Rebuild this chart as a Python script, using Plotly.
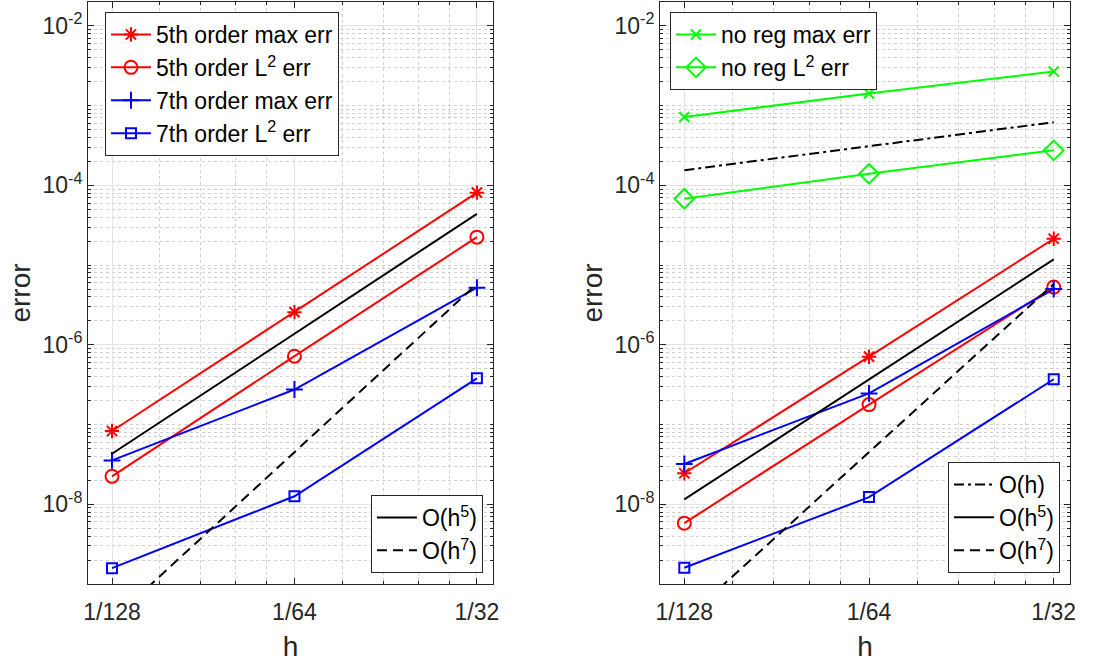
import plotly.graph_objects as go
from plotly.subplots import make_subplots
import math

# ---- data ----
h = [1/128, 1/64, 1/32]
h_labels = ["1/128", "1/64", "1/32"]

# left panel
max5_L = [8.3e-8, 2.57e-6, 8.1e-5]
l2_5_L = [2.24e-8, 7.2e-7, 2.24e-5]
max7_L = [3.55e-8, 2.75e-7, 5.2e-6]
l2_7_L = [1.58e-9, 1.26e-8, 3.8e-7]
O5_L = [4.3e-8, 1.37e-6, 4.4e-5]
O7_L = [3.5e-10, 4.5e-8, 5.8e-6]

# right panel
noreg_max = [7.2e-4, 1.42e-3, 2.68e-3]
noreg_l2 = [6.8e-5, 1.4e-4, 2.75e-4]
Oh_R = [1.55e-4, 3.1e-4, 6.2e-4]
max5_R = [2.45e-8, 7.1e-7, 2.14e-5]
l2_5_R = [5.8e-9, 1.78e-7, 5.3e-6]
max7_R = [3.2e-8, 2.46e-7, 5.0e-6]
l2_7_R = [1.6e-9, 1.23e-8, 3.7e-7]
O5_R = [1.15e-8, 3.7e-7, 1.18e-5]
O7_R = [3.5e-10, 4.5e-8, 5.8e-6]

y_tickvals = [1e-8, 1e-6, 1e-4, 1e-2]
y_ticktext = ["10<sup>-8</sup>", "10<sup>-6</sup>", "10<sup>-4</sup>", "10<sup>-2</sup>"]

FONT = "Liberation Sans, Arial, sans-serif"
AX = "#262626"
RED, BLUE, GREEN = "#ff0000", "#0000ff", "#00ff00"

fig = make_subplots(rows=1, cols=2, horizontal_spacing=0.17)


def add(col, y, name, color, symbol, legend, show=True, dash="solid", marker=True, msize=12):
    fig.add_trace(go.Scatter(
        x=h, y=y, name=name,
        mode="lines+markers" if marker else "lines",
        line=dict(color=color, width=2, dash=dash),
        marker=dict(symbol=symbol, size=msize, color=color,
                    line=dict(color=color, width=2)) if marker else None,
        legend=legend, legendgroup=name + legend, showlegend=show,
    ), row=1, col=col)


# left
add(1, max5_L, "5th order max err", RED, "asterisk-open", "legend")
add(1, l2_5_L, "5th order L<sup>2</sup> err", RED, "circle-open", "legend", msize=13)
add(1, max7_L, "7th order max err", BLUE, "cross-thin-open", "legend", msize=12)
add(1, l2_7_L, "7th order L<sup>2</sup> err", BLUE, "square-open", "legend", msize=10)
add(1, O5_L, "O(h<sup>5</sup>)", "black", None, "legend2", marker=False)
add(1, O7_L, "O(h<sup>7</sup>)", "black", None, "legend2", marker=False, dash="10px,6px")

# right
add(2, noreg_max, "no reg max err", GREEN, "x-thin-open", "legend3", msize=10)
add(2, noreg_l2, "no reg L<sup>2</sup> err", GREEN, "diamond-open", "legend3", msize=15)
add(2, Oh_R, "O(h)", "black", None, "legend4", marker=False, dash="10px,4px,3px,4px")
add(2, max5_R, "5th order max err", RED, "asterisk-open", "legend", show=False)
add(2, l2_5_R, "5th order L<sup>2</sup> err", RED, "circle-open", "legend", show=False, msize=13)
add(2, max7_R, "7th order max err", BLUE, "cross-thin-open", "legend", show=False, msize=12)
add(2, l2_7_R, "7th order L<sup>2</sup> err", BLUE, "square-open", "legend", show=False, msize=10)
add(2, O5_R, "O(h<sup>5</sup>)", "black", None, "legend4", marker=False)
add(2, O7_R, "O(h<sup>7</sup>)", "black", None, "legend4", marker=False, dash="10px,6px")

# axes
xminor = [b * f for b in (1/128, 1/64) for f in (1.2, 1.4, 1.6, 1.8)]
yminor = [m * 10.0 ** e for e in range(-10, 0) for m in range(1, 10)
          if not (m == 1 and e % 2 == 0)]
xr = [math.log10(1/128) - 0.0396, math.log10(1/32) + 0.0265]
yr = [-9, -1.7]

common = dict(showline=True, linecolor=AX, linewidth=1, mirror="ticks",
              ticks="inside", ticklen=6, tickcolor=AX,
              showgrid=True, gridcolor="#e3e3e3", gridwidth=1,
              zeroline=False, automargin=False,
              tickfont=dict(family=FONT, size=23, color=AX))

for c, dom in ((1, [0.0, 0.4124]), (2, [0.5825, 1.0])):
    fig.update_xaxes(type="log", range=xr, tickmode="array", tickvals=h,
                     ticktext=h_labels, domain=dom, ticklabelstandoff=7,
                     title=dict(text="h", font=dict(family=FONT, size=28, color=AX), standoff=12),
                     minor=dict(tickmode="array", tickvals=xminor, ticks="inside",
                                ticklen=3, tickcolor=AX, showgrid=True,
                                gridcolor="#d0d0d0", griddash="dot", gridwidth=1),
                     row=1, col=c, **common)
    fig.update_yaxes(type="log", range=yr, tickmode="array", tickvals=y_tickvals,
                     ticktext=y_ticktext,
                     title=dict(text="error", font=dict(family=FONT, size=28, color=AX), standoff=3),
                     minor=dict(tickmode="array", tickvals=yminor, ticks="inside",
                                ticklen=3, tickcolor=AX, showgrid=True,
                                gridcolor="#d0d0d0", griddash="dot", gridwidth=1),
                     row=1, col=c, **common)

leg_common = dict(bgcolor="white", bordercolor=AX, borderwidth=1,
                  font=dict(family=FONT, size=23, color="black"),
                  tracegroupgap=0, itemwidth=40)

fig.update_layout(
    width=1115, height=663,
    margin=dict(l=88, r=45, t=2, b=79),
    paper_bgcolor="white", plot_bgcolor="white",
    legend=dict(x=0.0173, y=0.9828, xanchor="left", yanchor="top", **leg_common),
    legend2=dict(x=0.4022, y=0.0189, xanchor="right", yanchor="bottom", **leg_common),
    legend3=dict(x=0.5927, y=0.9828, xanchor="left", yanchor="top", **leg_common),
    legend4=dict(x=0.9898, y=0.0189, xanchor="right", yanchor="bottom", **leg_common),
)

fig.write_html("out.html", config={"displayModeBar": False},
               post_script="document.body.style.margin='0';document.body.style.overflow='hidden';")
